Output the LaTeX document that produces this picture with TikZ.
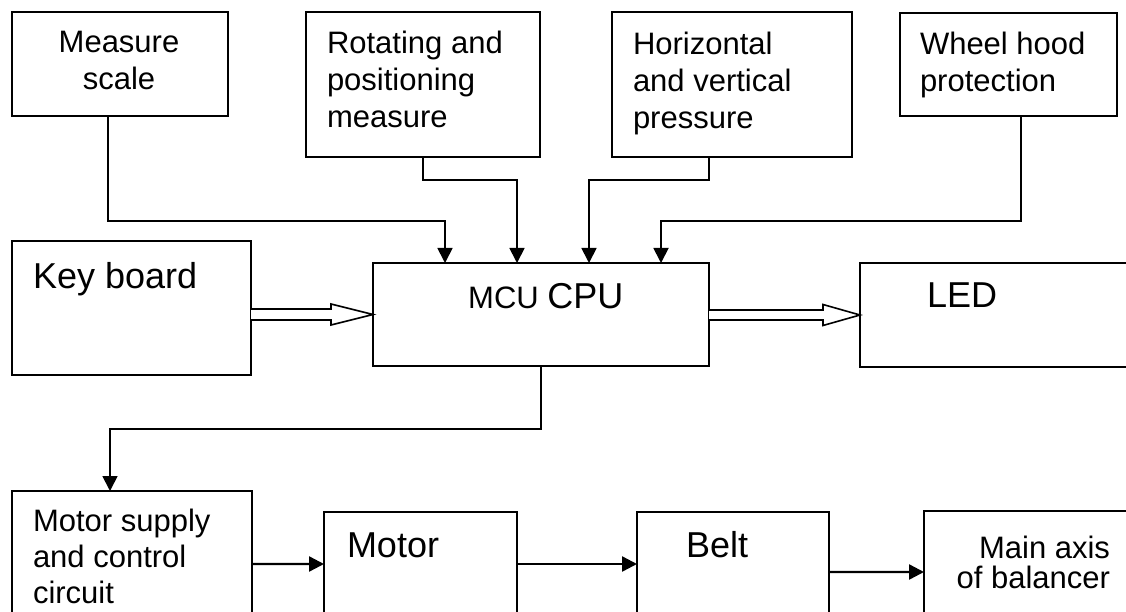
\documentclass[tikz,border=0pt]{standalone}
\usepackage{fontspec}
\setmainfont{Liberation Sans}
\usetikzlibrary{arrows.meta,calc}
\begin{document}
\begin{tikzpicture}[x=1bp,y=-1bp,
  box/.style={draw, line width=1.8bp, inner sep=0pt, outer sep=0pt, anchor=north west},
  small/.style={font=\fontsize{31bp}{37bp}\selectfont, inner sep=0pt, outer sep=0pt},
  big/.style={font=\fontsize{36bp}{43bp}\selectfont, inner sep=0pt, outer sep=0pt},
  conn/.style={line width=1.8bp, -{Triangle[length=15bp,width=15bp]}},
  thick conn/.style={line width=2.4bp, -{Triangle[length=15bp,width=15bp]}},
  hollow/.style={draw, line width=1.6bp, fill=white, line join=miter}]
\useasboundingbox (0,0) rectangle (1126,612);
\clip (0,0) rectangle (1126,612);

% boxes
\node[box, minimum width=216bp, minimum height=104bp] (ms) at (12,12) {};
\node[box, minimum width=234bp, minimum height=145bp] (rp) at (306,12) {};
\node[box, minimum width=240bp, minimum height=145bp] (hv) at (612,12) {};
\node[box, minimum width=217bp, minimum height=103bp] (wh) at (900,13) {};
\node[box, minimum width=239bp, minimum height=134bp] (kb) at (12,241) {};
\node[box, minimum width=336bp, minimum height=103bp] (cpu) at (373,263) {};
\node[box, minimum width=300bp, minimum height=104bp] (led) at (860,263) {};
\node[box, minimum width=240bp, minimum height=200bp] (msc) at (12,491) {};
\node[box, minimum width=193bp, minimum height=200bp] (mot) at (324,512) {};
\node[box, minimum width=192bp, minimum height=200bp] (belt) at (637,512) {};
\node[box, minimum width=250bp, minimum height=200bp] (main) at (924,511) {};

% texts
\node[small, align=center, anchor=north] (tms) at (119,31) {Measure\\scale};
\node[small, align=left, anchor=north west] (trp) at (327,31) {Rotating and\\positioning\\measure};
\node[small, align=left, anchor=north west] (thv) at (633,32) {Horizontal\\and vertical\\pressure};
\node[small, align=left, anchor=north west] (twh) at (920,32) {Wheel hood\\protection};
\node[big, anchor=north west] (tkb) at (33,262) {Key board};
\node[inner sep=0pt, anchor=base west] (tcpu) at (468,309)
  {{\fontsize{31bp}{37bp}\selectfont MCU }{\fontsize{36bp}{43bp}\selectfont CPU}};
\node[big, anchor=north west] (tled) at (927,283) {LED};
\node[small, align=left, anchor=north west, font=\fontsize{31bp}{36bp}\selectfont] (tmsc) at (33,509) {Motor supply\\and control\\circuit};
\node[big, anchor=base west] (tmot) at (347,557) {Motor};
\node[big, anchor=base west] (tbelt) at (686,557) {Belt};
\node[small, align=right, anchor=north east, font=\fontsize{31bp}{30bp}\selectfont] (tmain) at (1110,536) {Main axis\\of balancer};

% connectors into CPU
\draw[conn] ([xshift=-12bp]ms.south) |- ([xshift=-96bp,yshift=42bp]cpu.north) -- ([xshift=-96bp]cpu.north);
\draw[conn] (rp.south) -- ++(0,-23bp) -| ([xshift=-24bp]cpu.north);
\draw[conn] ([xshift=-23bp]hv.south) -- ++(0,-23bp) -| ([xshift=48bp]cpu.north);
\draw[conn] ([xshift=12.5bp]wh.south) |- ([xshift=120bp,yshift=42bp]cpu.north) -- ([xshift=120bp]cpu.north);

% hollow arrows
\path[hollow] let \p1=(kb.east), \p2=(cpu.west) in
  (\x1,\y2+5.5bp) -- (\x2-42bp,\y2+5.5bp) -- (\x2-42bp,\y2+10.5bp) -- (\p2)
  -- (\x2-42bp,\y2-10.5bp) -- (\x2-42bp,\y2-5.5bp) -- (\x1,\y2-5.5bp);
\path[hollow] let \p1=(cpu.east), \p2=(led.west) in
  (\x1,\y2+5bp) -- (\x2-37bp,\y2+5bp) -- (\x2-37bp,\y2+10.5bp) -- (\p2)
  -- (\x2-37bp,\y2-10.5bp) -- (\x2-37bp,\y2-5bp) -- (\x1,\y2-5bp);

% CPU to motor supply
\draw[conn] (cpu.south) -- ++(0,-63bp) -| ([xshift=-22bp]msc.north);

% bottom chain
\draw[thick conn] ([yshift=-73bp]msc.north east) -- ([yshift=-52bp]mot.north west);
\draw[thick conn] ([yshift=-52bp]mot.north east) -- ([yshift=-52bp]belt.north west);
\draw[thick conn] ([yshift=-60bp]belt.north east) -- ([yshift=-61bp]main.north west);
\end{tikzpicture}
\end{document}
